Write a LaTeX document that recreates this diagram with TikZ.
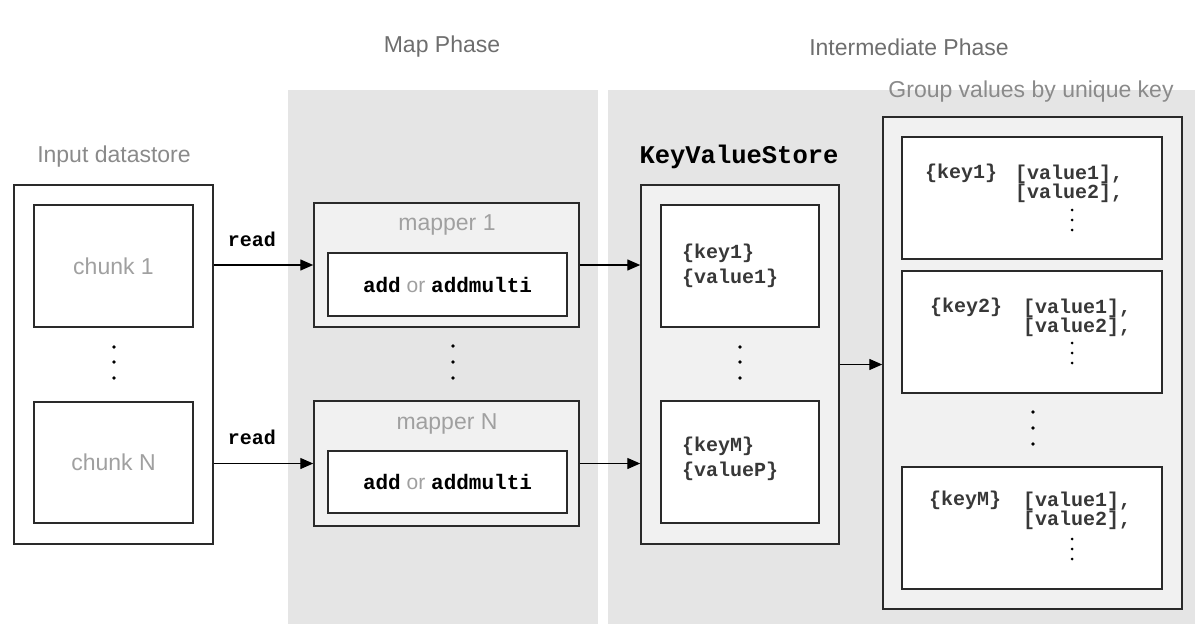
\documentclass[tikz,border=0pt]{standalone}
\usepackage{fontspec}
\setmainfont{Liberation Sans}
\setmonofont{Liberation Mono}
\usetikzlibrary{arrows.meta}

\definecolor{phasegrey}{HTML}{E5E5E5}
\definecolor{boxgrey}{HTML}{F1F1F1}
\definecolor{edgegrey}{HTML}{2A2A2A}
\definecolor{headgrey}{HTML}{6E6E6E}
\definecolor{namegrey}{HTML}{8A8A8A}
\definecolor{softgrey}{HTML}{A0A0A0}
\definecolor{codegrey}{HTML}{383838}

\newcommand{\code}[1]{{\ttfamily\bfseries #1}}

\begin{document}
\begin{tikzpicture}[x=1pt,y=-1pt,
    phase/.style={fill=phasegrey, inner sep=0pt},
    outerbox/.style={draw=edgegrey, line width=1.5pt, fill=boxgrey, inner sep=0pt},
    innerbox/.style={draw=edgegrey, line width=1.5pt, fill=white, inner sep=0pt},
    heading/.style={text=headgrey, inner sep=0pt, font=\fontsize{23}{27}\selectfont},
    caption/.style={text=namegrey, inner sep=0pt, font=\fontsize{23}{27}\selectfont},
    soft/.style={text=softgrey, font=\fontsize{23}{27}\selectfont},
    codetxt/.style={text=codegrey, inner sep=0pt, align=left, font=\fontsize{20}{25}\selectfont\ttfamily\bfseries},
    flow/.style={line width=1.4pt, -{Triangle[length=13pt,width=11pt]}}]
    \useasboundingbox (0,0) rectangle (1195,624);

    % phase panels
    \node[phase, minimum width=310pt, minimum height=534pt] (mapphase) at (443,357) {};
    \node[phase, minimum width=587pt, minimum height=534pt] (midphase) at (901.5,357) {};
    \node[heading] (maptitle) at (442,47) {Map Phase};
    \node[heading] (midtitle) at (909,47) {Intermediate Phase};

    % input datastore
    \node[caption] (intitle) at (114,157) {Input datastore};
    \node[innerbox, minimum width=199pt, minimum height=359pt] (inbox) at (113.5,364.5) {};
    \node[innerbox, soft, minimum width=159pt, minimum height=122pt] (chunk1) at (113.5,266) {chunk 1};
    \node[innerbox, soft, minimum width=159pt, minimum height=121pt] (chunkN) at (113.5,462.5) {chunk N};
    \fill (114,347) circle (1.8pt) (114,362) circle (1.8pt) (114,378) circle (1.8pt);

    % mappers
    \node[outerbox, minimum width=265pt, minimum height=124pt] (map1) at (446.5,265) {};
    \node[soft, inner sep=0pt] (map1name) at (447,225) {mapper 1};
    \node[innerbox, minimum width=239pt, minimum height=63pt, font=\fontsize{21}{25}\selectfont] (add1) at (447.5,284.5)
        {\code{add} {\color{softgrey}or} \code{addmulti}};
    \node[outerbox, minimum width=265pt, minimum height=125pt] (mapN) at (446.5,463.5) {};
    \node[soft, inner sep=0pt] (mapNname) at (447,424) {mapper N};
    \node[innerbox, minimum width=239pt, minimum height=62pt, font=\fontsize{21}{25}\selectfont] (addN) at (447.5,482)
        {\code{add} {\color{softgrey}or} \code{addmulti}};
    \fill (453,346) circle (1.8pt) (453,362) circle (1.8pt) (453,378) circle (1.8pt);

    \draw[flow] (inbox.east |- map1) -- (map1.west);
    \draw[flow] (inbox.east |- mapN) -- (mapN.west);
    \node[codetxt, text=black] (read1) at (252,239) {read};
    \node[codetxt, text=black] (readN) at (252,437) {read};

    % key value store
    \node[codetxt, text=black, font=\fontsize{25.5}{30}\selectfont\ttfamily\bfseries] (kvtitle) at (739,157) {KeyValueStore};
    \node[outerbox, minimum width=198pt, minimum height=359pt] (kvs) at (740,364.5) {};
    \node[innerbox, minimum width=158pt, minimum height=122pt] (kv1) at (740,266) {};
    \node[innerbox, minimum width=158pt, minimum height=122pt] (kvM) at (740,462) {};
    \node[codetxt, anchor=west] (kv1txt) at (682,265.5) {\{key1\}\\\{value1\}};
    \node[codetxt, anchor=west] (kvMtxt) at (682,459) {\{keyM\}\\\{valueP\}};
    \fill (740,347) circle (1.8pt) (740,362) circle (1.8pt) (740,378) circle (1.8pt);

    \draw[flow] (map1.east) -- (map1.east -| kvs.west);
    \draw[flow] (mapN.east) -- (mapN.east -| kvs.west);

    % grouped values
    \node[caption] (grptitle) at (1031,92) {Group values by unique key};
    \node[outerbox, minimum width=299pt, minimum height=492pt] (grp) at (1032.5,363) {};
    \node[innerbox, minimum width=260pt, minimum height=122pt] (g1) at (1032,198) {};
    \node[innerbox, minimum width=260pt, minimum height=122pt] (g2) at (1032,332) {};
    \node[innerbox, minimum width=260pt, minimum height=122pt] (gM) at (1032,528) {};
    \fill (1033,412) circle (1.8pt) (1033,428) circle (1.8pt) (1033,444) circle (1.8pt);

    \node[codetxt, anchor=west] (g1key) at (925,173) {\{key1\}};
    \node[codetxt, anchor=north west, font=\fontsize{20}{19}\selectfont\ttfamily\bfseries] (g1val) at (1015,165) {[value1],\\{}[value2],};
    \fill (1072,210) circle (1.5pt) (1072,220) circle (1.5pt) (1072,230) circle (1.5pt);

    \node[codetxt, anchor=west] (g2key) at (930,307) {\{key2\}};
    \node[codetxt, anchor=north west, font=\fontsize{20}{19}\selectfont\ttfamily\bfseries] (g2val) at (1023,299) {[value1],\\{}[value2],};
    \fill (1072,343) circle (1.5pt) (1072,353) circle (1.5pt) (1072,363) circle (1.5pt);

    \node[codetxt, anchor=west] (gMkey) at (929,500) {\{keyM\}};
    \node[codetxt, anchor=north west, font=\fontsize{20}{19}\selectfont\ttfamily\bfseries] (gMval) at (1023,492) {[value1],\\{}[value2],};
    \fill (1072,539) circle (1.5pt) (1072,549) circle (1.5pt) (1072,559) circle (1.5pt);

    \draw[flow] (kvs.east) -- (kvs.east -| grp.west);
\end{tikzpicture}
\end{document}
